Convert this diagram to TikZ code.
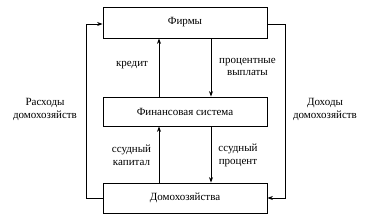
\documentclass[tikz,border=0pt]{standalone}
\usepackage{fontspec}
\setmainfont{Liberation Serif}
\usetikzlibrary{arrows.meta}
\begin{document}
\begin{tikzpicture}[x=1pt,y=1pt,
  box/.style={draw,line width=0.8pt,minimum width=164pt,minimum height=30pt,inner sep=0pt,font=\fontsize{11}{13}\selectfont},
  lbl/.style={align=center,font=\fontsize{11}{12.5}\selectfont,inner sep=0pt},
  conn/.style={line width=0.8pt,-{Stealth[length=5.5pt,width=4pt]}}]
\useasboundingbox (0,0) rectangle (365,218);
\node[box,minimum height=31pt] (F) at (185,195.5) {Фирмы};
\node[box,minimum height=29pt] (S) at (185,106.5) {Финансовая система};
\node[box] (D) at (185,20) {Домохозяйства};
\coordinate (L1) at (86,20);
\coordinate (L2) at (86,194);
\coordinate (R1) at (285,194);
\coordinate (R2) at (285,20);
\coordinate (A) at (159,0);
\coordinate (B) at (211,0);
\draw[conn] (D.west |- L1) -- (L1) -- (L2) -- (F.west |- L2);
\draw[conn] (F.east |- R1) -- (R1) -- (R2) -- (D.east |- R2);
\draw[conn] (S.north -| A) -- (F.south -| A);
\draw[conn] (F.south -| B) -- (S.north -| B);
\draw[conn] (D.north -| A) -- (S.south -| A);
\draw[conn] (S.south -| B) -- (D.north -| B);
\node[lbl] (k) at (132,152.5) {кредит};
\node[lbl] (pv) at (247.5,151) {процентные\\выплаты};
\node[lbl] (rd) at (45,108.5) {Расходы\\домохозяйств};
\node[lbl] (dd) at (325,108.5) {Доходы\\домохозяйств};
\node[lbl] (sk) at (131.5,62.5) {ссудный\\капитал};
\node[lbl] (sp) at (238,62.5) {ссудный\\процент};
\end{tikzpicture}
\end{document}
